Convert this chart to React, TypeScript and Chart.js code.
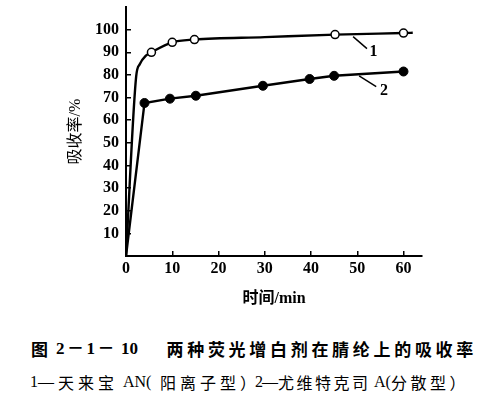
import React, { useEffect, useRef } from "react";
import { Chart, registerables } from "chart.js";

Chart.register(...registerables);

// ---- data ----
const timeCurve1 = [0, 2.2, 3.0, 4.3, 5.5, 10, 14.8, 30, 45.2, 60, 62];
const absorbCurve1 = [0, 79.3, 84.8, 88.5, 90, 94.4, 95.6, 96.7, 97.8, 98.5, 98.6];
const markedCurve1 = [false, false, false, false, true, true, true, false, true, true, false];

const timeCurve2 = [0, 4, 9.5, 15.1, 29.6, 39.7, 45, 60];
const absorbCurve2 = [0, 67.6, 69.5, 70.8, 75.2, 78.2, 79.6, 81.5];
const markedCurve2 = [false, true, true, true, true, true, true, true];

const xTickValues = [0, 10, 20, 30, 40, 50, 60];
const yTickValues = [10, 20, 30, 40, 50, 60, 70, 80, 90, 100];

const curveNames = ["1", "2"];
const xTitle = "时间/min";
const yTitle = "吸收率/%";

const SERIF = '"Liberation Serif", "Noto Sans CJK SC", serif';
const CJK = '"Noto Sans CJK SC", "Liberation Serif", sans-serif';

// leader lines + numbers (data coordinates)
const tagGeometry = [
  { x1: 49.1, y1: 96.9, x2: 52.1, y2: 91.6, tx: 53.5, ty: 90.2 },
  { x1: 50.4, y1: 79.6, x2: 54.1, y2: 74.8, tx: 55.8, ty: 73.0 },
];

const curveTagPlugin = {
  id: "curveTags",
  afterDatasetsDraw(chart: any) {
    const { ctx, scales } = chart;
    const xs = scales.x;
    const ys = scales.y;
    tagGeometry.forEach((g, i) => {
      ctx.save();
      ctx.strokeStyle = "#000";
      ctx.lineWidth = 1.4;
      ctx.beginPath();
      ctx.moveTo(xs.getPixelForValue(g.x1), ys.getPixelForValue(g.y1));
      ctx.lineTo(xs.getPixelForValue(g.x2), ys.getPixelForValue(g.y2));
      ctx.stroke();
      ctx.fillStyle = "#000";
      ctx.font = `bold 16px ${SERIF}`;
      ctx.textAlign = "center";
      ctx.textBaseline = "middle";
      ctx.fillText(curveNames[i], xs.getPixelForValue(g.tx), ys.getPixelForValue(g.ty));
      ctx.restore();
    });
  },
};

type Span = { text: string; left: number; top: number; size: number; bold: boolean; spacing: number; family: string };

const captionSpans: Span[] = [
  { text: "图", left: 31, top: 339.5, size: 17, bold: true, spacing: 0, family: CJK },
  { text: "2－1－", left: 56, top: 339.5, size: 17, bold: true, spacing: 2.5, family: SERIF },
  { text: "10", left: 121, top: 339.5, size: 17, bold: true, spacing: 0, family: SERIF },
  { text: "两种荧光增白剂在腈纶上的吸收率", left: 166.5, top: 339.5, size: 17, bold: true, spacing: 3.7, family: CJK },
  { text: "1—", left: 30, top: 373.5, size: 16, bold: false, spacing: 0, family: SERIF },
  { text: "天来宝", left: 58, top: 373.5, size: 16, bold: false, spacing: 4, family: CJK },
  { text: "AN(", left: 123, top: 373.5, size: 16, bold: false, spacing: 0, family: SERIF },
  { text: "阳离子型）", left: 160, top: 373.5, size: 16, bold: false, spacing: 4, family: CJK },
  { text: "2—", left: 255, top: 373.5, size: 16, bold: false, spacing: -1, family: SERIF },
  { text: "尤维特克司", left: 278, top: 373.5, size: 16, bold: false, spacing: 2.5, family: CJK },
  { text: "A(", left: 374, top: 373.5, size: 16, bold: false, spacing: 0, family: SERIF },
  { text: "分散型）", left: 391, top: 373.5, size: 16, bold: false, spacing: 3.5, family: CJK },
];

export default function App() {
  const canvasRef = useRef<HTMLCanvasElement | null>(null);

  useEffect(() => {
    const canvas = canvasRef.current;
    if (!canvas) return;
    const chart = new Chart(canvas, {
      type: "line",
      data: {
        datasets: [
          {
            label: curveNames[0],
            data: timeCurve1.map((t, i) => ({ x: t, y: absorbCurve1[i] })),
            borderColor: "#000",
            borderWidth: 2.4,
            cubicInterpolationMode: "monotone",
            pointRadius: markedCurve1.map((m) => (m ? 4 : 0)),
            pointBackgroundColor: "#fff",
            pointBorderColor: "#000",
            pointBorderWidth: 1.5,
          },
          {
            label: curveNames[1],
            data: timeCurve2.map((t, i) => ({ x: t, y: absorbCurve2[i] })),
            borderColor: "#000",
            borderWidth: 2.4,
            tension: 0,
            pointRadius: markedCurve2.map((m) => (m ? 4.5 : 0)),
            pointBackgroundColor: "#000",
            pointBorderColor: "#000",
            pointBorderWidth: 1,
          },
        ],
      },
      options: {
        responsive: false,
        animation: false,
        devicePixelRatio: 1,
        layout: { padding: { top: 7, right: 78, left: 0, bottom: 0 } },
        plugins: { legend: { display: false }, tooltip: { enabled: false } },
        scales: {
          x: {
            type: "linear",
            min: 0,
            max: 64,
            afterBuildTicks: (s: any) => {
              s.ticks = xTickValues.map((v) => ({ value: v }));
            },
            afterFit: (s: any) => {
              s.height = 64;
              s.paddingLeft = 0;
              s.paddingRight = 0;
            },
            ticks: {
              color: "#000",
              font: { family: SERIF, size: 16, weight: "bold" },
              padding: 8,
              maxRotation: 0,
            },
            grid: {
              display: true,
              drawOnChartArea: false,
              drawTicks: true,
              tickLength: -5,
              color: (c: any) => (c.tick && c.tick.value === 0 ? "rgba(0,0,0,0)" : "#000"),
              lineWidth: 1.5,
            },
            border: { display: true, color: "#000", width: 2 },
            title: {
              display: true,
              text: xTitle,
              color: "#000",
              font: { family: SERIF, size: 16, weight: "bold" },
              padding: { top: 0, bottom: 12 },
            },
          },
          y: {
            type: "linear",
            min: 0,
            max: 110,
            afterBuildTicks: (s: any) => {
              s.ticks = yTickValues.map((v) => ({ value: v }));
            },
            afterFit: (s: any) => {
              s.width = 126;
              s.paddingTop = 0;
              s.paddingBottom = 0;
            },
            ticks: {
              color: "#000",
              font: { family: SERIF, size: 16, weight: "bold" },
              padding: 12,
            },
            grid: {
              display: true,
              drawOnChartArea: false,
              drawTicks: true,
              tickLength: -5,
              color: "#000",
              lineWidth: 1.5,
            },
            border: { display: true, color: "#000", width: 2 },
            title: {
              display: true,
              text: yTitle,
              color: "#000",
              font: { family: SERIF, size: 16, weight: "normal" },
              padding: { top: 66, bottom: 0 },
            },
          },
        },
      },
      plugins: [curveTagPlugin],
    } as any);
    return () => chart.destroy();
  }, []);

  return (
    <div style={{ position: "absolute", left: 0, top: 0, width: 500, height: 398, background: "#fff", overflow: "hidden" }}>
      <canvas ref={canvasRef} width={500} height={320} style={{ display: "block", position: "absolute", left: 0, top: 0 }} />
      {captionSpans.map((s, i) => (
        <span
          key={i}
          style={{
            position: "absolute",
            left: s.left,
            top: s.top,
            fontSize: s.size,
            lineHeight: `${s.size}px`,
            fontWeight: s.bold ? 700 : 400,
            letterSpacing: s.spacing,
            fontFamily: s.family,
            color: "#000",
            whiteSpace: "pre",
          }}
        >
          {s.text}
        </span>
      ))}
    </div>
  );
}
